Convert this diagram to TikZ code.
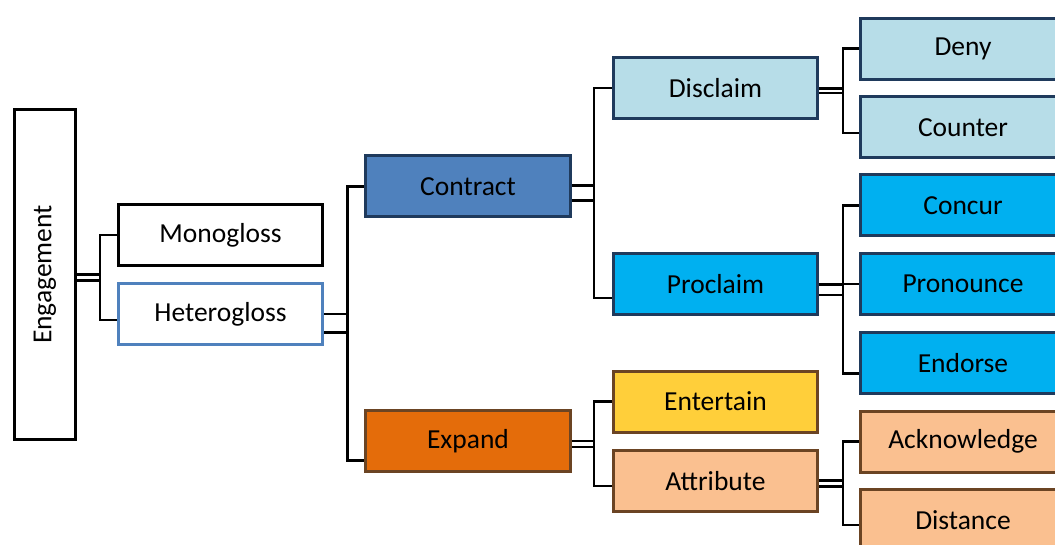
\documentclass[tikz,border=0pt]{standalone}
\usepackage{fontspec}
\setmainfont{Carlito}
\usetikzlibrary{backgrounds}
\definecolor{navyedge}{HTML}{1F3A5C}
\definecolor{brownedge}{HTML}{6B4423}
\definecolor{heteroedge}{HTML}{4F81BD}
\definecolor{contractfill}{HTML}{4F81BD}
\definecolor{disclaimfill}{HTML}{B7DDE8}
\definecolor{proclaimfill}{HTML}{00B0F0}
\definecolor{expandfill}{HTML}{E46C0A}
\definecolor{entertainfill}{HTML}{FFCF3A}
\definecolor{attributefill}{HTML}{FAC090}
\tikzset{box/.style={draw=black, fill=white, line width=3pt, inner sep=0pt,
      minimum width=204.5pt, minimum height=61pt,
      font=\fontsize{27.5}{33}\selectfont},
    blue box/.style={box, draw=navyedge, fill=#1},
    brown box/.style={box, draw=brownedge, fill=#1},
    wire/.style={draw=black, line width=2.8pt},
    pair/.style={wire, double=white, double distance=#1}}

\begin{document}
\begin{tikzpicture}[x=1pt,y=-1pt]
    \useasboundingbox (0,0) rectangle (1055,545);
    \clip (0,0) rectangle (1055,545);
    % first level
    \node[box, rotate=90, minimum width=329pt] (eng) at (45,274.5) {Engagement};
    \node[box] (mono)   at (220.5,235)   {Monogloss};
    \node[box, draw=heteroedge] (hetero) at (220.5,314.5) {Heterogloss};
    % contract / expand
    \node[blue box=contractfill] (contract) at (468,186.5) {Contract};
    \node[brown box=expandfill]  (expand)   at (468,441)   {Expand};
    \node[blue box=disclaimfill] (disclaim) at (715.5,88)  {Disclaim};
    \node[blue box=proclaimfill] (proclaim) at (715.5,284) {Proclaim};
    \node[brown box=entertainfill] (entertain) at (715.5,401.5) {Entertain};
    \node[brown box=attributefill] (attribute) at (715.5,481)   {Attribute};
    % last column
    \node[blue box=disclaimfill] (deny)      at (963,48.6)  {Deny};
    \node[blue box=disclaimfill] (counter)   at (963,127.5) {Counter};
    \node[blue box=proclaimfill] (concur)    at (963,205.5) {Concur};
    \node[blue box=proclaimfill] (pronounce) at (963,284)   {Pronounce};
    \node[blue box=proclaimfill] (endorse)   at (963,362.8) {Endorse};
    \node[brown box=attributefill] (acknowledge) at (963,441.5) {Acknowledge};
    \node[brown box=attributefill] (distance)    at (963,520)   {Distance};
    % brackets
    \coordinate (engBr)      at (100,277.5);
    \coordinate (heteroBr)   at (347.5,323.3);
    \coordinate (contractBr) at (594,193);
    \coordinate (expandBr)   at (594,444);
    \coordinate (disclaimBr) at (843,91);
    \coordinate (proclaimBr) at (843,289.7);
    \coordinate (attribBr)   at (843,483.2);
    \begin{pgfonlayer}{background}
      \draw[pair=3.2pt]  (eng.east |- engBr) -- (engBr);
      \draw[pair=15.7pt] (hetero.east |- heteroBr) -- (heteroBr);
      \draw[pair=12.9pt] (contract.east |- contractBr) -- (contractBr);
      \draw[pair=3.2pt]  (expand.east |- expandBr) -- (expandBr);
      \draw[pair=1.4pt]  (disclaim.east |- disclaimBr) -- (disclaimBr);
      \draw[pair=7.7pt]  (proclaim.east |- proclaimBr) -- (proclaimBr);
      \draw[pair=3.2pt]  (attribute.east |- attribBr) -- (attribBr);

      \draw[wire] (mono.west) -| (engBr) |- ([yshift=-5.5pt]hetero.west);
      \draw[wire] (contract.west) -| (heteroBr) |- ([yshift=-19.7pt]expand.west);
      \draw[wire] (disclaim.west) -| (contractBr) |- ([yshift=-14pt]proclaim.west);
      \draw[wire] (entertain.west) -| (expandBr) |- ([yshift=-5pt]attribute.west);
      \draw[wire] (deny.west) -| (disclaimBr) |- ([yshift=-5.5pt]counter.west);
      \draw[wire] (concur.west) -| (proclaimBr) |- ([yshift=-11pt]endorse.west);
      \draw[wire] (pronounce.west) -- (pronounce.west -| proclaimBr);
      \draw[wire] (acknowledge.west) -| (attribBr) |- ([yshift=-5pt]distance.west);
    \end{pgfonlayer}
\end{tikzpicture}
\end{document}
